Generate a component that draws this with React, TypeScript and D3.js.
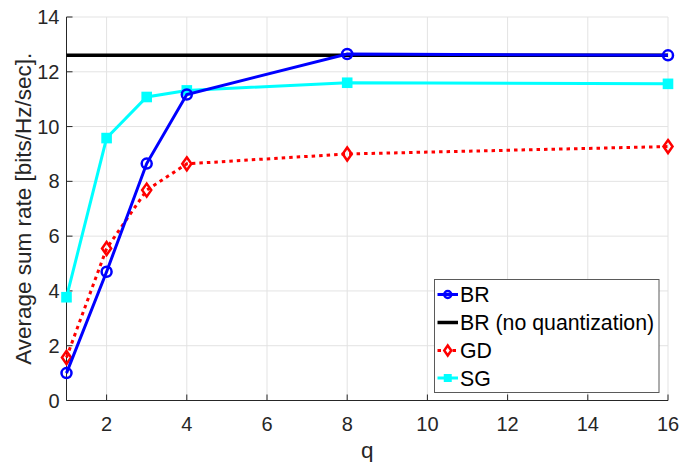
import React from "react";
import * as d3 from "d3";

const qValues = [1, 2, 3, 4, 8, 16];
const brValues = [1.0, 4.7, 8.65, 11.17, 12.65, 12.6];
const brNoQuant = 12.6;
const gdValues = [1.57, 5.55, 7.68, 8.64, 9.0, 9.27];
const sgValues = [3.77, 9.58, 11.08, 11.32, 11.6, 11.56];
const xTicks = [2, 4, 6, 8, 10, 12, 14, 16];
const yTicks = [0, 2, 4, 6, 8, 10, 12, 14];
const legendLabels = ["BR", "BR (no quantization)", "GD", "SG"];

const W = 694;
const H = 462;
const left = 66.5;
const right = 668;
const top = 17;
const bottom = 400.5;
const font = "'Liberation Sans', Arial, Helvetica, sans-serif";
const axisColor = "#262626";

export default function App() {
  const x = d3.scaleLinear().domain([1, 16]).range([left, right]);
  const y = d3.scaleLinear().domain([0, 14]).range([bottom, top]);
  const line = d3
    .line<number>()
    .x((_, i) => x(qValues[i]))
    .y((d) => y(d));

  const diamond = (cx: number, cy: number, r: number) =>
    `M${cx},${cy - r}L${cx + r * 0.7},${cy}L${cx},${cy + r}L${cx - r * 0.7},${cy}Z`;

  const legX = 434.5;
  const legY = 279.5;
  const legW = 224.5;
  const legH = 113;
  const rowY = [294.5, 322.5, 350.5, 378];

  return (
    <svg
      width={W}
      height={H}
      style={{ position: "absolute", left: 0, top: 0, background: "#fff" }}
      fontFamily={font}
    >
      {xTicks.map((t) => (
        <line key={"gx" + t} x1={x(t)} x2={x(t)} y1={top} y2={bottom} stroke="#e3e3e3" strokeWidth={1} />
      ))}
      {yTicks.map((t) => (
        <line key={"gy" + t} x1={left} x2={right} y1={y(t)} y2={y(t)} stroke="#e3e3e3" strokeWidth={1} />
      ))}
      <line x1={left} x2={left} y1={top} y2={bottom} stroke={axisColor} strokeWidth={1} />
      <line x1={left} x2={right} y1={bottom} y2={bottom} stroke={axisColor} strokeWidth={1} />
      {xTicks.map((t) => (
        <g key={"xt" + t}>
          <line x1={x(t)} x2={x(t)} y1={bottom} y2={bottom - 6} stroke={axisColor} strokeWidth={1} />
          <text x={x(t)} y={430.5} textAnchor="middle" fontSize={20} fill={axisColor}>
            {t}
          </text>
        </g>
      ))}
      {yTicks.map((t) => (
        <g key={"yt" + t}>
          <line x1={left} x2={left + 6} y1={y(t)} y2={y(t)} stroke={axisColor} strokeWidth={1} />
          <text x={59.5} y={y(t) + 7} textAnchor="end" fontSize={20} fill={axisColor}>
            {t}
          </text>
        </g>
      ))}
      <text x={(left + right) / 2} y={458} textAnchor="middle" fontSize={22.5} fill={axisColor}>
        q
      </text>
      <text
        transform={`translate(31,${(top + bottom) / 2}) rotate(-90)`}
        textAnchor="middle"
        fontSize={22.5}
        fill={axisColor}
      >
        Average sum rate [bits/Hz/sec].
      </text>

      <line x1={x(1)} x2={x(16)} y1={y(brNoQuant)} y2={y(brNoQuant)} stroke="#000" strokeWidth={3.5} />

      <path d={line(sgValues) || ""} fill="none" stroke="#00ffff" strokeWidth={3} />
      {sgValues.map((v, i) => (
        <rect key={"sg" + i} x={x(qValues[i]) - 5.3} y={y(v) - 5.3} width={10.6} height={10.6} fill="#00ffff" />
      ))}

      <path d={line(gdValues) || ""} fill="none" stroke="#ff0000" strokeWidth={3} strokeDasharray="3.5 4" />
      {gdValues.map((v, i) => (
        <path key={"gd" + i} d={diamond(x(qValues[i]), y(v), 6.5)} fill="none" stroke="#ff0000" strokeWidth={2.5} />
      ))}

      <path d={line(brValues) || ""} fill="none" stroke="#0000ff" strokeWidth={3} />
      {brValues.map((v, i) => (
        <circle key={"br" + i} cx={x(qValues[i])} cy={y(v)} r={5} fill="none" stroke="#0000ff" strokeWidth={2.5} />
      ))}

      <rect x={legX} y={legY} width={legW} height={legH} fill="#fff" stroke="#5a5a5a" strokeWidth={1} />
      {legendLabels.map((lab, i) => {
        const cy = rowY[i];
        const x1 = 437.5;
        const x2 = 458;
        const mx = (x1 + x2) / 2;
        return (
          <g key={"leg" + i}>
            {i === 0 && (
              <>
                <line x1={x1} x2={x2} y1={cy} y2={cy} stroke="#0000ff" strokeWidth={3} />
                <circle cx={mx} cy={cy} r={3.5} fill="none" stroke="#0000ff" strokeWidth={2.5} />
              </>
            )}
            {i === 1 && <line x1={x1} x2={x2} y1={cy} y2={cy} stroke="#000" strokeWidth={3.5} />}
            {i === 2 && (
              <>
                <line x1={x1} x2={x2} y1={cy} y2={cy} stroke="#ff0000" strokeWidth={3} strokeDasharray="3.5 4" />
                <path d={diamond(mx, cy, 5)} fill="#fff" stroke="#ff0000" strokeWidth={2.5} />
              </>
            )}
            {i === 3 && (
              <>
                <line x1={x1} x2={x2} y1={cy} y2={cy} stroke="#00ffff" strokeWidth={3} />
                <rect x={mx - 4} y={cy - 4} width={8} height={8} fill="#00ffff" />
              </>
            )}
            <text x={460} y={cy + 7.5} fontSize={21.3} fill="#000">
              {lab}
            </text>
          </g>
        );
      })}
    </svg>
  );
}
